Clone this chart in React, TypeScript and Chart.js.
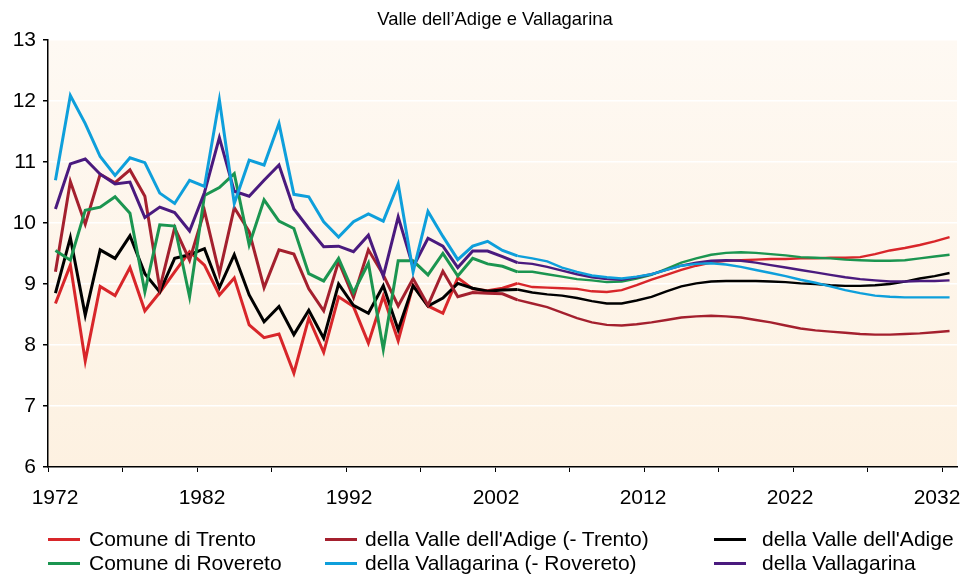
import React, { useEffect, useRef } from "react";
import { Chart, registerables } from "chart.js";

Chart.register(...registerables);

const years: number[] = Array.from({ length: 61 }, (_, i) => 1972 + i);
const xTickValues = [1972, 1977, 1982, 1987, 1992, 1997, 2002, 2007, 2012, 2017, 2022, 2027, 2032];
const xLabelValues = [1972, 1982, 1992, 2002, 2012, 2022, 2032];

const trento = [
  8.68, 9.31, 7.74, 8.96, 8.81, 9.27, 8.56, 8.86, 9.20, 9.53,
  9.31, 8.82, 9.10, 8.33, 8.12, 8.18, 7.54, 8.44, 7.88, 8.79,
  8.63, 8.03, 8.80, 8.07, 8.98, 8.64, 8.52, 9.10, 8.92, 8.89,
  8.93, 9.01, 8.95, 8.94, 8.93, 8.92, 8.88, 8.87, 8.90, 8.98,
  9.07, 9.15, 9.23, 9.30, 9.35, 9.38, 9.39, 9.40, 9.41, 9.41,
  9.42, 9.42, 9.43, 9.43, 9.44, 9.49, 9.55, 9.59, 9.64, 9.70,
  9.77,
];
const valleAdigeNoTrento = [
  9.20, 10.68, 9.98, 10.80, 10.66, 10.87, 10.44, 8.93, 9.92, 9.39,
  10.20, 9.17, 10.25, 9.86, 8.94, 9.56, 9.49, 8.92, 8.56, 9.37,
  8.78, 9.56, 9.15, 8.64, 9.09, 8.65, 9.21, 8.79, 8.86, 8.85,
  8.84, 8.74, 8.68, 8.62, 8.53, 8.44, 8.37, 8.33, 8.32, 8.34,
  8.37, 8.41, 8.45, 8.47, 8.48, 8.47, 8.45, 8.41, 8.37, 8.32,
  8.27, 8.24, 8.22, 8.20, 8.18, 8.17, 8.17, 8.18, 8.19, 8.21,
  8.23,
];
const valleAdige = [
  8.85, 9.76, 8.49, 9.56, 9.42, 9.79, 9.17, 8.87, 9.42, 9.48,
  9.58, 8.94, 9.48, 8.82, 8.38, 8.63, 8.17, 8.57, 8.11, 9.00,
  8.65, 8.52, 8.97, 8.25, 8.97, 8.64, 8.77, 9.01, 8.93, 8.88,
  8.90, 8.91, 8.86, 8.83, 8.81, 8.77, 8.72, 8.68, 8.68, 8.73,
  8.79, 8.88, 8.96, 9.01, 9.04, 9.05, 9.05, 9.05, 9.04, 9.03,
  9.01, 9.00, 8.98, 8.97, 8.97, 8.98, 9.00, 9.04, 9.09, 9.13,
  9.18,
];
const rovereto = [
  9.55, 9.39, 10.21, 10.26, 10.43, 10.16, 8.87, 9.97, 9.95, 8.79,
  10.45, 10.58, 10.81, 9.64, 10.38, 10.03, 9.91, 9.17, 9.05, 9.42,
  8.86, 9.34, 7.93, 9.38, 9.38, 9.15, 9.50, 9.13, 9.42, 9.33,
  9.29, 9.20, 9.20, 9.16, 9.12, 9.08, 9.06, 9.03, 9.04, 9.09,
  9.15, 9.25, 9.35, 9.42, 9.48, 9.51, 9.52, 9.51, 9.49, 9.47,
  9.44, 9.43, 9.42, 9.40, 9.39, 9.38, 9.38, 9.39, 9.42, 9.45,
  9.48,
];
const vallagarinaNoRovereto = [
  10.70, 12.09, 11.63, 11.09, 10.78, 11.07, 10.99, 10.49, 10.32, 10.70,
  10.60, 12.02, 10.32, 11.03, 10.95, 11.63, 10.47, 10.43, 10.02, 9.77,
  10.02, 10.15, 10.03, 10.64, 9.20, 10.19, 9.78, 9.40, 9.62, 9.70,
  9.55, 9.46, 9.42, 9.37, 9.27, 9.20, 9.14, 9.11, 9.09, 9.12,
  9.16, 9.23, 9.30, 9.33, 9.34, 9.32, 9.28, 9.23, 9.18, 9.13,
  9.07, 9.02, 8.96, 8.90, 8.85, 8.81, 8.79, 8.78, 8.78, 8.78,
  8.78,
];
const vallagarina = [
  10.23, 10.97, 11.05, 10.80, 10.64, 10.67, 10.09, 10.26, 10.17, 9.87,
  10.50, 11.40, 10.52, 10.44, 10.70, 10.95, 10.23, 9.91, 9.61, 9.62,
  9.53, 9.80, 9.13, 10.10, 9.28, 9.75, 9.62, 9.27, 9.54, 9.54,
  9.45, 9.35, 9.33, 9.28, 9.22, 9.16, 9.11, 9.08, 9.07, 9.11,
  9.16, 9.23, 9.30, 9.35, 9.38, 9.39, 9.38, 9.35, 9.31, 9.27,
  9.23, 9.19, 9.15, 9.11, 9.08, 9.06, 9.04, 9.04, 9.05, 9.05,
  9.06,
];

const seriesNames = [
  "Comune di Trento",
  "della Valle dell'Adige (- Trento)",
  "della Valle dell'Adige",
  "Comune di Rovereto",
  "della Vallagarina (- Rovereto)",
  "della Vallagarina",
];
const seriesColors = ["#D8262A", "#A4202E", "#000000", "#1B9550", "#0E9FDB", "#4A1A7E"];
const seriesValues = [trento, valleAdigeNoTrento, valleAdige, rovereto, vallagarinaNoRovereto, vallagarina];
// drawing order (first drawn at bottom)
const drawOrder = [4, 5, 3, 1, 2, 0];

const FONT = '"Liberation Sans", Arial, Helvetica, sans-serif';

const bgPlugin = {
  id: "bgGradient",
  beforeDraw(chart: any) {
    const { ctx, chartArea: a } = chart;
    if (!a) return;
    const g = ctx.createLinearGradient(0, a.top, 0, a.bottom);
    g.addColorStop(0, "#FEF9F3");
    g.addColorStop(1, "#FDF1E1");
    ctx.save();
    ctx.fillStyle = g;
    ctx.fillRect(a.left, a.top, a.right - a.left, a.bottom - a.top);
    ctx.restore();
  },
};

const legendLayout = [
  { idx: 0, line: 48, text: 89, row: 0 },
  { idx: 3, line: 48, text: 89, row: 1 },
  { idx: 1, line: 325, text: 365, row: 0 },
  { idx: 4, line: 325, text: 365, row: 1 },
  { idx: 2, line: 714, text: 762, row: 0 },
  { idx: 5, line: 714, text: 762, row: 1 },
];
const rowY = [539, 563];

export default function App() {
  const ref = useRef<HTMLCanvasElement | null>(null);

  useEffect(() => {
    document.body.style.margin = "0";
    const canvas = ref.current;
    if (!canvas) return;
    const datasets = drawOrder.map((i) => ({
      label: seriesNames[i],
      data: years.map((yr, k) => ({ x: yr + 0.5, y: seriesValues[i][k] })),
      borderColor: seriesColors[i],
      backgroundColor: seriesColors[i],
      borderWidth: 3,
      pointRadius: 0,
      tension: 0,
      segment: {
        borderWidth: (ctx: any) => (ctx.p0.parsed.x >= 2003 ? 2.4 : 3),
      },
    }));
    const chart = new Chart(canvas, {
      type: "line",
      data: { datasets },
      plugins: [bgPlugin],
      options: {
        animation: false,
        responsive: false,
        maintainAspectRatio: false,
        layout: { padding: { top: 40, right: 4, left: 0, bottom: 0 } },
        plugins: {
          legend: { display: false },
          title: { display: false },
          tooltip: { enabled: false },
        },
        scales: {
          x: {
            type: "linear",
            position: "bottom",
            weight: 0,
            min: 1972,
            max: 2033,
            afterBuildTicks: (scale: any) => {
              scale.ticks = xTickValues.map((v) => ({ value: v }));
            },
            afterFit: (scale: any) => {
              scale.height = 5;
              scale.paddingLeft = 0;
              scale.paddingRight = 0;
            },
            ticks: {
              autoSkip: false,
              maxRotation: 0,
              minRotation: 0,
              padding: 0,
              callback: () => "",
            },
            grid: {
              drawOnChartArea: false,
              drawTicks: true,
              tickLength: 5,
              tickColor: "#000",
              color: "#000",
              lineWidth: 1,
            },
            border: { display: true, color: "#000", width: 1.5 },
          },
          xl: {
            type: "linear",
            position: "bottom",
            axis: "x",
            weight: 1,
            min: 1971.524,
            max: 2033.36,
            afterBuildTicks: (scale: any) => {
              scale.ticks = xLabelValues.map((v) => ({ value: v }));
            },
            afterFit: (scale: any) => {
              scale.height = 113;
              scale.paddingLeft = 0;
              scale.paddingRight = 0;
            },
            ticks: {
              autoSkip: false,
              maxRotation: 0,
              minRotation: 0,
              padding: 14,
              color: "#000",
              font: { family: FONT, size: 21 },
              callback: (v: any) => String(v),
            },
            grid: { display: false, drawOnChartArea: false, drawTicks: false },
            border: { display: false },
          },
          y: {
            type: "linear",
            min: 6,
            max: 13,
            afterFit: (scale: any) => {
              scale.width = 48;
            },
            ticks: {
              stepSize: 1,
              padding: 7,
              color: "#000",
              font: { family: FONT, size: 21 },
            },
            grid: {
              color: "#FFFFFF",
              lineWidth: 1.5,
              tickColor: "#000",
              tickLength: 5,
              drawTicks: true,
            },
            border: { display: true, color: "#000", width: 1.5 },
          },
        },
      },
    });
    return () => chart.destroy();
  }, []);

  return (
    <div style={{ position: "absolute", left: 0, top: 0, width: 961, height: 585, background: "#fff", fontFamily: FONT }}>
      <canvas ref={ref} width={961} height={585} style={{ position: "absolute", left: 0, top: 0, width: 961, height: 585 }} />
      <div
        style={{
          position: "absolute",
          left: 0,
          top: 8,
          width: 990,
          textAlign: "center",
          fontSize: 18.4,
          lineHeight: "21px",
          color: "#000",
        }}
      >
        Valle dell’Adige e Vallagarina
      </div>
      {legendLayout.map((l) => (
        <React.Fragment key={l.idx}>
          <div
            style={{
              position: "absolute",
              left: l.line,
              top: rowY[l.row] - 1.5,
              width: 32,
              height: 3,
              background: seriesColors[l.idx],
            }}
          />
          <div
            style={{
              position: "absolute",
              left: l.text,
              top: rowY[l.row] - 12,
              height: 24,
              lineHeight: "24px",
              fontSize: 21,
              color: "#000",
              whiteSpace: "nowrap",
            }}
          >
            {seriesNames[l.idx]}
          </div>
        </React.Fragment>
      ))}
    </div>
  );
}
